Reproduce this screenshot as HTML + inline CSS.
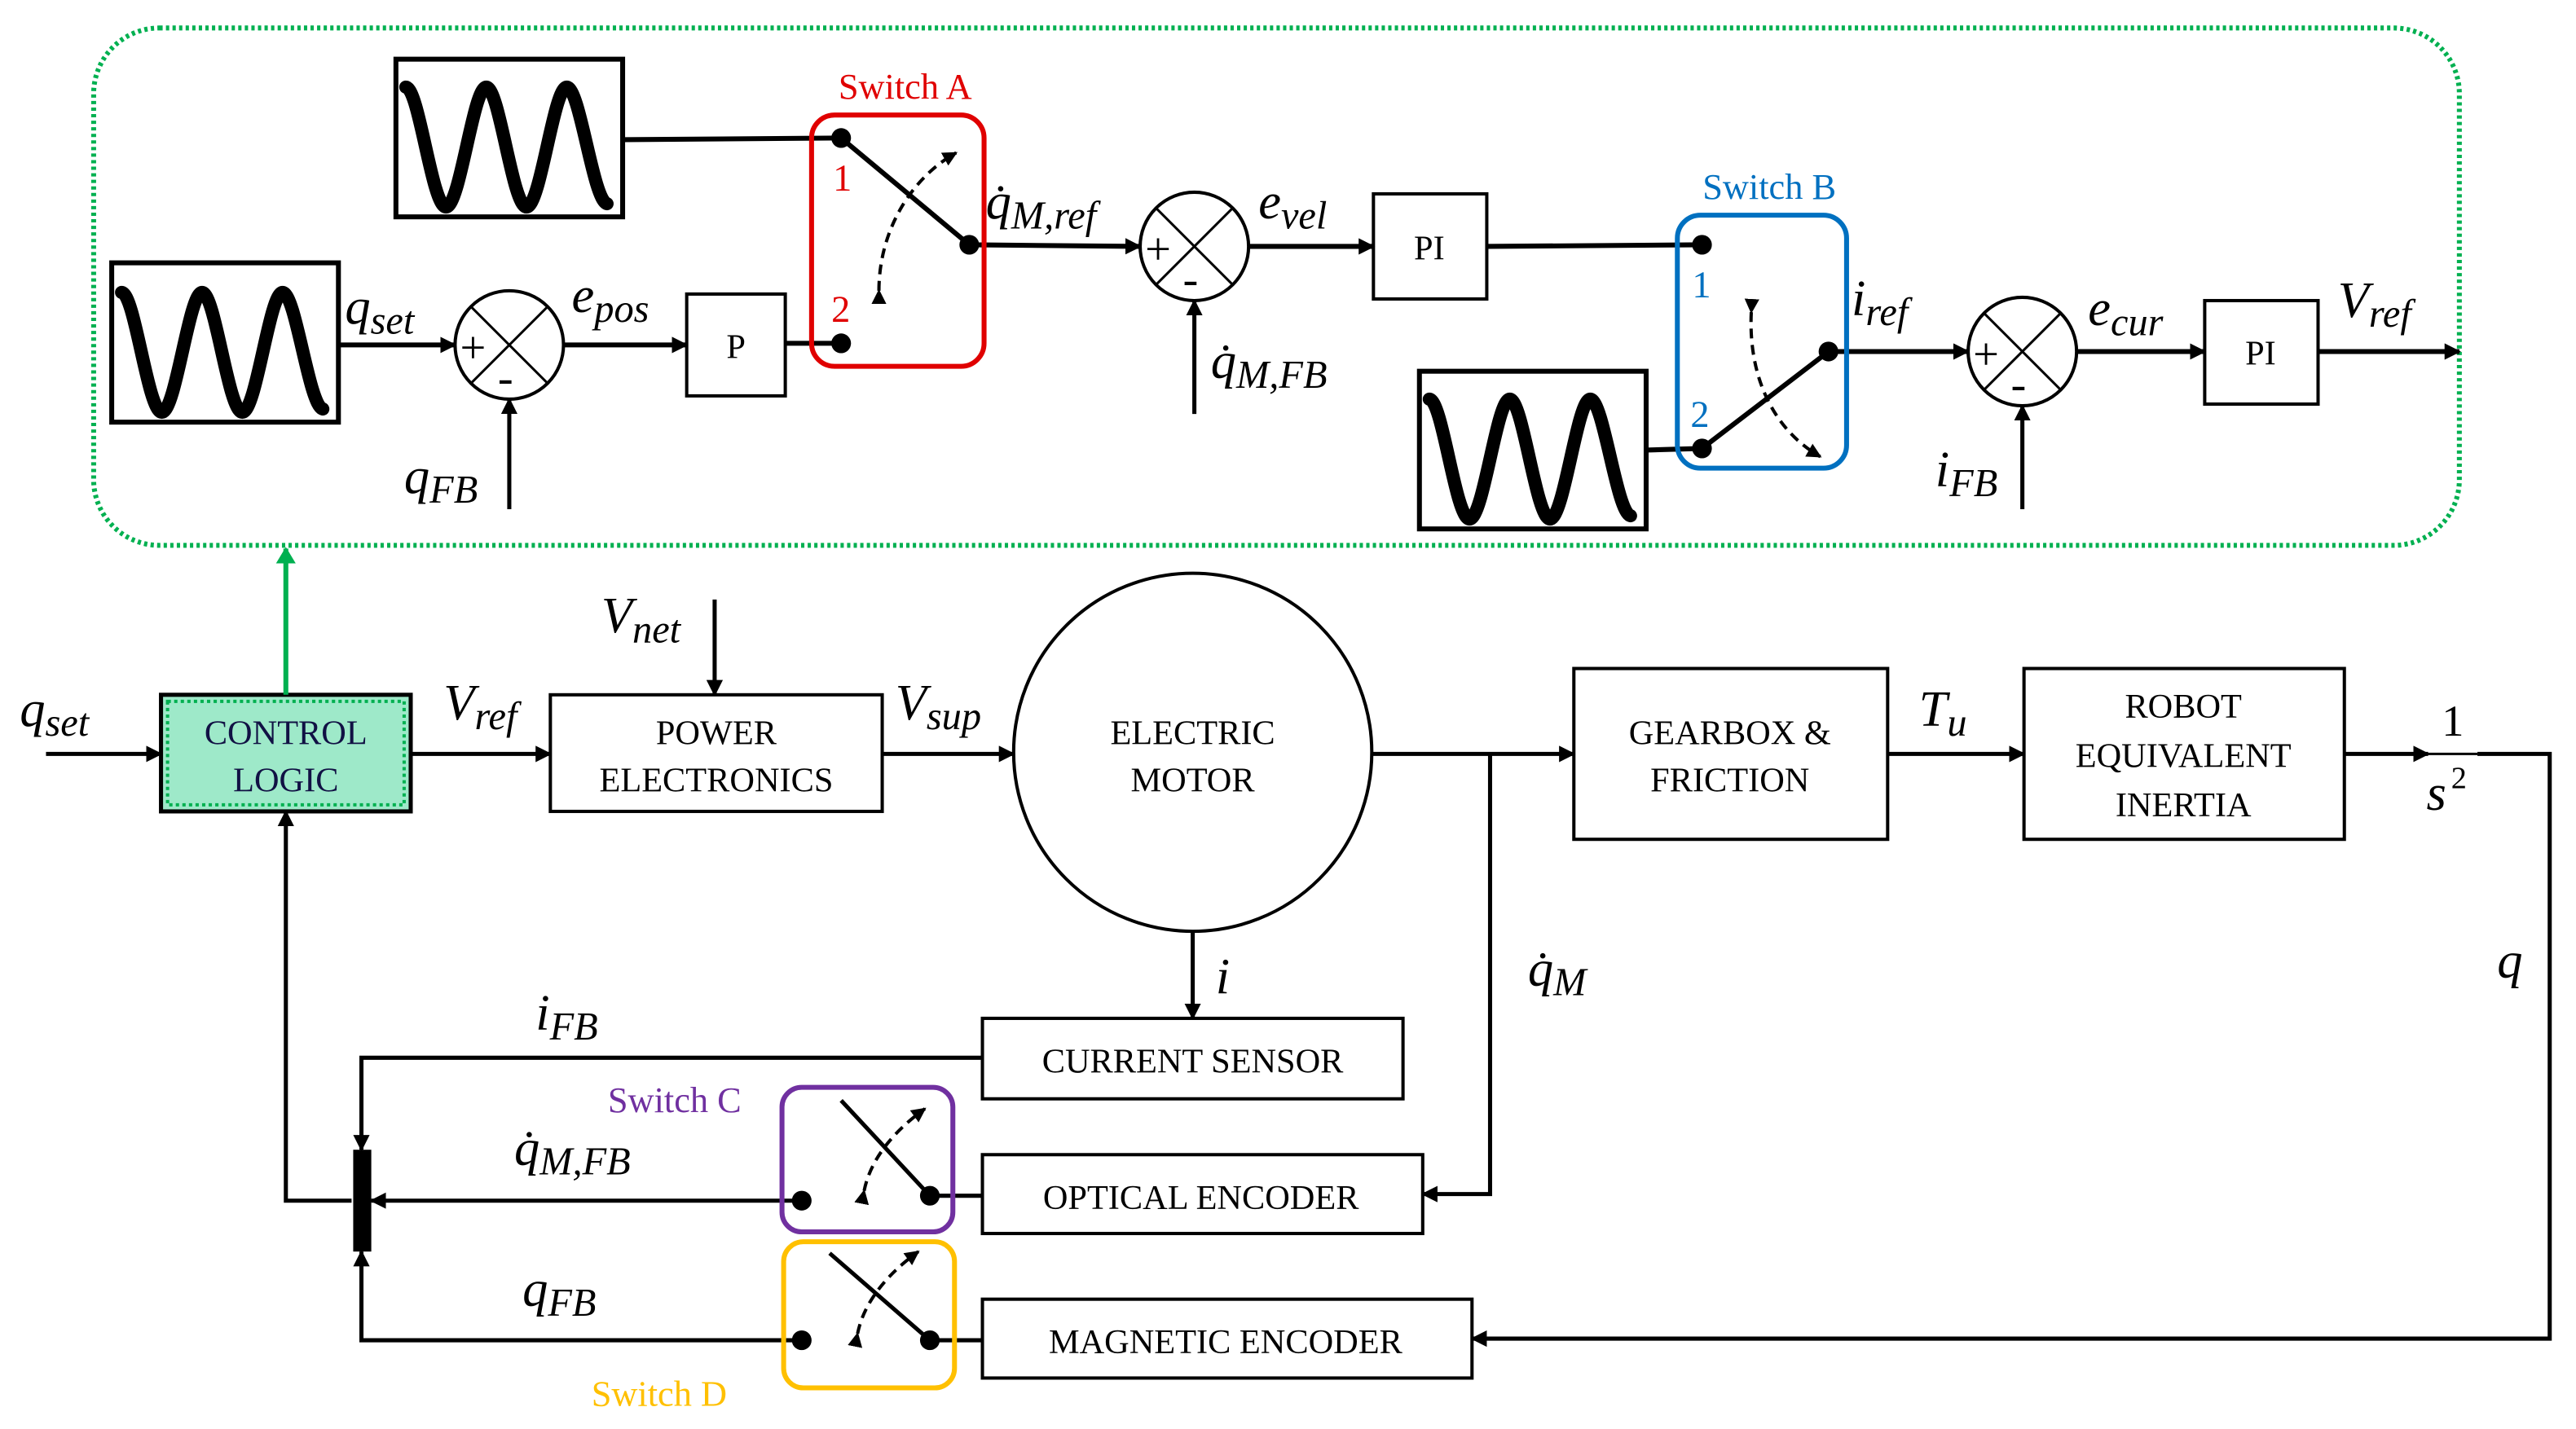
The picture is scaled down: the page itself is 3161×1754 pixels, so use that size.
<!DOCTYPE html>
<html><head><meta charset="utf-8"><style>
html,body{margin:0;padding:0;background:#fff;}
svg{display:block;}
text{font-family:"Liberation Serif",serif;}
.m{font-style:italic;font-size:31px;}
.s{font-style:italic;font-size:24px;}
.b{font-size:21px;}
</style></head><body>
<svg width="3161" height="1754" viewBox="0 0 1568 870" xmlns="http://www.w3.org/2000/svg">
<defs>
<marker id="a" markerWidth="10" markerHeight="10" refX="9" refY="5" orient="auto" markerUnits="userSpaceOnUse"><path d="M0,0 L10,5 L0,10 Z" fill="#000"/></marker>
<marker id="ag" markerWidth="10" markerHeight="12" refX="9" refY="6" orient="auto" markerUnits="userSpaceOnUse"><path d="M0,0 L10,6 L0,12 Z" fill="#00b050"/></marker>
<marker id="ad" markerWidth="9" markerHeight="9" refX="8" refY="4.5" orient="auto" markerUnits="userSpaceOnUse"><path d="M0,0 L9,4.5 L0,9 Z" fill="#000"/></marker>
<g id="sine"><path d="M6,17 C14,17 22,90 30.5,90 C39,90 47,17 55,17 C63,17 71,90 79.5,90 C88,90 96,17 104,17 C112,17 120,86 128.5,88" fill="none" stroke="#000" stroke-width="8" stroke-linecap="round"/></g>
</defs>
<rect x="57" y="17" width="1440" height="315" rx="40" fill="none" stroke="#00b050" stroke-width="3" stroke-dasharray="2,2"/>
<rect x="241" y="36" width="138" height="96" fill="#fff" stroke="#000" stroke-width="3"/>
<g transform="translate(241,36)"><use href="#sine"/></g>
<rect x="68" y="160" width="138" height="97" fill="#fff" stroke="#000" stroke-width="3"/>
<g transform="translate(68,161)"><use href="#sine"/></g>
<rect x="864" y="226" width="138" height="96" fill="#fff" stroke="#000" stroke-width="3"/>
<g transform="translate(864,226)"><use href="#sine"/></g>
<g stroke="#000" stroke-width="2" fill="#fff">
<circle cx="310" cy="210" r="33"/><circle cx="727" cy="150" r="33"/><circle cx="1231" cy="214" r="33"/>
</g>
<g stroke="#000" stroke-width="1.5">
<path d="M287,187 L333,233 M333,187 L287,233"/>
<path d="M704,127 L750,173 M750,127 L704,173"/>
<path d="M1208,191 L1254,237 M1254,191 L1208,237"/>
</g>
<g font-size="28" font-family="Liberation Sans,sans-serif">
<text x="280" y="221">+</text><text x="303" y="239">-</text>
<text x="697" y="161">+</text><text x="720" y="179">-</text>
<text x="1201" y="225">+</text><text x="1224" y="243">-</text>
</g>
<g fill="#fff" stroke="#000" stroke-width="2">
<rect x="418" y="179" width="60" height="62"/>
<rect x="836" y="118" width="69" height="64"/>
<rect x="1342" y="183" width="69" height="63"/>
</g>
<text x="448" y="218" class="b" text-anchor="middle">P</text>
<text x="870" y="158" class="b" text-anchor="middle">PI</text>
<text x="1376" y="222" class="b" text-anchor="middle">PI</text>
<g stroke="#000" stroke-width="3" fill="none">
<line x1="206" y1="210" x2="277" y2="210" marker-end="url(#a)"/>
<line x1="343" y1="210" x2="418" y2="210" marker-end="url(#a)"/>
<line x1="478" y1="209" x2="512" y2="209"/>
<line x1="379" y1="85" x2="512" y2="84"/>
<line x1="512" y1="84" x2="590" y2="149"/>
<line x1="590" y1="149" x2="694" y2="150" marker-end="url(#a)"/>
<line x1="760" y1="150" x2="836" y2="150" marker-end="url(#a)"/>
<line x1="905" y1="150" x2="1036" y2="149"/>
<line x1="1002" y1="274" x2="1036" y2="273"/>
<line x1="1036" y1="273" x2="1113" y2="214"/>
<line x1="1113" y1="214" x2="1198" y2="214" marker-end="url(#a)"/>
<line x1="1264" y1="214" x2="1342" y2="214" marker-end="url(#a)"/>
<line x1="1411" y1="214" x2="1497" y2="214" marker-end="url(#a)"/>
</g>
<g stroke="#000" stroke-width="2.5" fill="none">
<line x1="310" y1="310" x2="310" y2="243" marker-end="url(#a)"/>
<line x1="727" y1="252" x2="727" y2="183" marker-end="url(#a)"/>
<line x1="1231" y1="310" x2="1231" y2="247" marker-end="url(#a)"/>
</g>
<g fill="#000"><circle cx="512" cy="84" r="6"/><circle cx="512" cy="209" r="6"/><circle cx="590" cy="149" r="6"/>
<circle cx="1036" cy="149" r="6"/><circle cx="1036" cy="273" r="6"/><circle cx="1113" cy="214" r="6"/></g>
<rect x="494" y="70" width="105" height="153" rx="14" fill="none" stroke="#e00000" stroke-width="3"/>
<text x="551" y="60" fill="#e00000" font-size="22" text-anchor="middle">Switch A</text>
<text x="507" y="116" fill="#e00000" font-size="23">1</text>
<text x="506" y="196" fill="#e00000" font-size="23">2</text>
<path d="M535,177 C535,140 555,108 582,93" fill="none" stroke="#000" stroke-width="2" stroke-dasharray="6,4" marker-end="url(#ad)" marker-start="url(#ad)"/>
<rect x="1021" y="131" width="103" height="154" rx="14" fill="none" stroke="#0070c0" stroke-width="3"/>
<text x="1077" y="121" fill="#0070c0" font-size="22" text-anchor="middle">Switch B</text>
<text x="1030" y="181" fill="#0070c0" font-size="23">1</text>
<text x="1029" y="260" fill="#0070c0" font-size="23">2</text>
<path d="M1066,190 C1064,230 1080,262 1108,278" fill="none" stroke="#000" stroke-width="2" stroke-dasharray="6,4" marker-end="url(#ad)" marker-start="url(#ad)"/>
<text x="210" y="197" class="m">q<tspan class="s" dy="6">set</tspan></text>
<text x="348" y="190" class="m">e<tspan class="s" dy="6">pos</tspan></text>
<text x="246" y="300" class="m">q<tspan class="s" dy="6">FB</tspan></text>
<text x="600" y="133" class="m">q̇<tspan class="s" dy="6">M,ref</tspan></text>
<text x="766" y="133" class="m">e<tspan class="s" dy="6">vel</tspan></text>
<text x="737" y="230" class="m">q̇<tspan class="s" dy="6">M,FB</tspan></text>
<text x="1127" y="192" class="m">i<tspan class="s" dy="6">ref</tspan></text>
<text x="1271" y="198" class="m">e<tspan class="s" dy="6">cur</tspan></text>
<text x="1423" y="193" class="m">V<tspan class="s" dy="6">ref</tspan></text>
<text x="1178" y="296" class="m">i<tspan class="s" dy="6">FB</tspan></text>
<rect x="98" y="423" width="152" height="71" fill="#9ee9c9" stroke="#000" stroke-width="2.5"/>
<rect x="102" y="427" width="144" height="63" fill="none" stroke="#00b050" stroke-width="2" stroke-dasharray="2,2"/>
<text x="174" y="453" class="b" text-anchor="middle" fill="#114">CONTROL</text>
<text x="174" y="482" class="b" text-anchor="middle" fill="#114">LOGIC</text>
<rect x="335" y="423" width="202" height="71" fill="#fff" stroke="#000" stroke-width="2"/>
<text x="436" y="453" class="b" text-anchor="middle">POWER</text>
<text x="436" y="482" class="b" text-anchor="middle">ELECTRONICS</text>
<circle cx="726" cy="458" r="109" fill="#fff" stroke="#000" stroke-width="2"/>
<text x="726" y="453" class="b" text-anchor="middle">ELECTRIC</text>
<text x="726" y="482" class="b" text-anchor="middle">MOTOR</text>
<rect x="958" y="407" width="191" height="104" fill="#fff" stroke="#000" stroke-width="2"/>
<text x="1053" y="453" class="b" text-anchor="middle">GEARBOX &amp;</text>
<text x="1053" y="482" class="b" text-anchor="middle">FRICTION</text>
<rect x="1232" y="407" width="195" height="104" fill="#fff" stroke="#000" stroke-width="2"/>
<text x="1329" y="437" class="b" text-anchor="middle">ROBOT</text>
<text x="1329" y="467" class="b" text-anchor="middle">EQUIVALENT</text>
<text x="1329" y="497" class="b" text-anchor="middle">INERTIA</text>
<rect x="598" y="620" width="256" height="49" fill="#fff" stroke="#000" stroke-width="2"/>
<text x="726" y="653" class="b" text-anchor="middle">CURRENT SENSOR</text>
<rect x="598" y="703" width="268" height="48" fill="#fff" stroke="#000" stroke-width="2"/>
<text x="731" y="736" class="b" text-anchor="middle">OPTICAL ENCODER</text>
<rect x="598" y="791" width="298" height="48" fill="#fff" stroke="#000" stroke-width="2"/>
<text x="746" y="824" class="b" text-anchor="middle">MAGNETIC ENCODER</text>
<text x="1493" y="448" font-size="27" text-anchor="middle">1</text>
<line x1="1478" y1="459" x2="1508" y2="459" stroke="#000" stroke-width="1.5"/>
<text x="1477" y="493" class="m" font-size="29">s</text><text x="1492" y="480" font-size="19">2</text>
<g stroke="#000" stroke-width="2.5" fill="none">
<line x1="28" y1="459" x2="98" y2="459" marker-end="url(#a)"/>
<line x1="250" y1="459" x2="335" y2="459" marker-end="url(#a)"/>
<line x1="435" y1="365" x2="435" y2="423" marker-end="url(#a)"/>
<line x1="537" y1="459" x2="617" y2="459" marker-end="url(#a)"/>
<line x1="835" y1="459" x2="958" y2="459" marker-end="url(#a)"/>
<line x1="1149" y1="459" x2="1232" y2="459" marker-end="url(#a)"/>
<line x1="1427" y1="459" x2="1478" y2="459" marker-end="url(#a)"/>
<polyline points="1508,459 1552,459 1552,815 896,815" marker-end="url(#a)"/>
<polyline points="907,459 907,727 866,727" marker-end="url(#a)"/>
<line x1="726" y1="567" x2="726" y2="620" marker-end="url(#a)"/>
<polyline points="598,644 220,644 220,700" marker-end="url(#a)"/>
<line x1="488" y1="731" x2="226" y2="731" marker-end="url(#a)"/>
<polyline points="488,816 220,816 220,762" marker-end="url(#a)"/>
<polyline points="214,731 174,731 174,494" marker-end="url(#a)"/>
<line x1="566" y1="728" x2="598" y2="728"/>
<line x1="566" y1="816" x2="598" y2="816"/>
<line x1="512" y1="670" x2="566" y2="728"/>
<line x1="505" y1="763" x2="566" y2="816"/>
</g>
<line x1="174" y1="423" x2="174" y2="334" stroke="#00b050" stroke-width="3" marker-end="url(#ag)"/>
<rect x="215" y="700" width="11" height="62" fill="#000"/>
<g fill="#000"><circle cx="488" cy="731" r="6"/><circle cx="566" cy="728" r="6"/><circle cx="488" cy="816" r="6"/><circle cx="566" cy="816" r="6"/></g>
<path d="M526,725 C530,705 545,688 563,675" fill="none" stroke="#000" stroke-width="2" stroke-dasharray="6,4" marker-end="url(#ad)" marker-start="url(#ad)"/>
<path d="M522,812 C526,792 541,775 559,762" fill="none" stroke="#000" stroke-width="2" stroke-dasharray="6,4" marker-end="url(#ad)" marker-start="url(#ad)"/>
<rect x="476" y="662" width="104" height="88" rx="12" fill="none" stroke="#7030a0" stroke-width="3"/>
<text x="370" y="677" fill="#7030a0" font-size="22">Switch C</text>
<rect x="477" y="756" width="104" height="89" rx="12" fill="none" stroke="#ffc000" stroke-width="3"/>
<text x="360" y="856" fill="#ffc000" font-size="22">Switch D</text>
<text x="12" y="442" class="m">q<tspan class="s" dy="6">set</tspan></text>
<text x="270" y="438" class="m">V<tspan class="s" dy="6">ref</tspan></text>
<text x="366" y="385" class="m">V<tspan class="s" dy="6">net</tspan></text>
<text x="545" y="438" class="m">V<tspan class="s" dy="6">sup</tspan></text>
<text x="1168" y="442" class="m">T<tspan class="s" dy="6">u</tspan></text>
<text x="740" y="605" class="m">i</text>
<text x="930" y="600" class="m">q̇<tspan class="s" dy="6">M</tspan></text>
<text x="1520" y="595" class="m">q</text>
<text x="326" y="627" class="m">i<tspan class="s" dy="6">FB</tspan></text>
<text x="313" y="709" class="m">q̇<tspan class="s" dy="6">M,FB</tspan></text>
<text x="318" y="795" class="m">q<tspan class="s" dy="6">FB</tspan></text>
</svg>
</body></html>
